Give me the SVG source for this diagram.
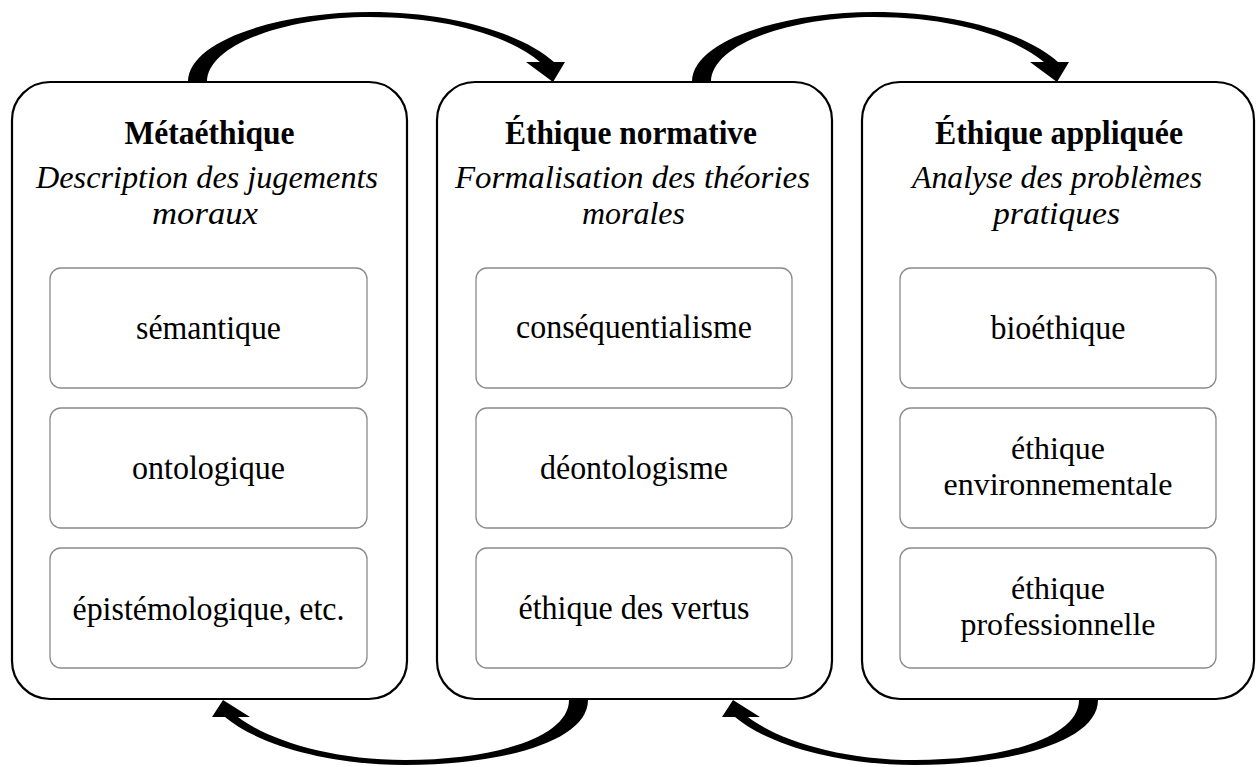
<svg xmlns="http://www.w3.org/2000/svg" width="1256" height="767" viewBox="0 0 1256 767">
<defs>
<style>
.outer{fill:#fff;stroke:#000;stroke-width:2.2}
.inner{fill:#fff;stroke:#8a8a8a;stroke-width:1.3}
.title{font-family:"Liberation Serif",serif;font-weight:bold;font-size:34px;fill:#000;text-anchor:middle}
.sub{font-family:"Liberation Serif",serif;font-style:italic;font-size:32px;fill:#000;text-anchor:middle}
.item{font-family:"Liberation Serif",serif;font-size:34px;fill:#000;text-anchor:middle}
.item2{font-family:"Liberation Serif",serif;font-size:32px;fill:#000;text-anchor:middle}
.arrow{fill:#000;stroke:none}
</style>
<path id="topArrow" d="M188,82 C188,40 280,12 370,12 C450,12 522,33 554,62 L565,62 L553,82 L526,62 L540,62 C510,37 450,17 370,17 C285,17 207,45 207,82 Z"/>
<path id="botArrow" d="M588,700 C588,742 500,765 405,765 C330,765 258,745 225,717 L212,717 L223,700 L250,717 L238,717 C268,740 330,760 405,760 C495,760 569,737 569,700 Z"/>
</defs>
<rect width="1256" height="767" fill="#fff"/>

<g id="node-metaethique">
<rect class="outer" x="12" y="82" width="395" height="617" rx="38"/>
<text class="title" x="209.5" y="144" textLength="170" lengthAdjust="spacingAndGlyphs">Métaéthique</text>
<text class="sub" x="207" y="188" textLength="342" lengthAdjust="spacingAndGlyphs">Description des jugements</text>
<text class="sub" x="205" y="224" textLength="106" lengthAdjust="spacingAndGlyphs">moraux</text>
</g>
<g id="node-semantique">
<rect class="inner" x="50" y="268" width="317" height="120" rx="11"/>
<text class="item" x="208.5" y="339" textLength="145" lengthAdjust="spacingAndGlyphs">sémantique</text>
</g>
<g id="node-ontologique">
<rect class="inner" x="50" y="408" width="317" height="120" rx="11"/>
<text class="item" x="208.5" y="479" textLength="153" lengthAdjust="spacingAndGlyphs">ontologique</text>
</g>
<g id="node-epistemologique">
<rect class="inner" x="50" y="548" width="317" height="120" rx="11"/>
<text class="item" x="208.5" y="620" textLength="272" lengthAdjust="spacingAndGlyphs">épistémologique, etc.</text>
</g>

<g id="node-ethique-normative">
<rect class="outer" x="437" y="82" width="395" height="617" rx="38"/>
<text class="title" x="631" y="144" textLength="252" lengthAdjust="spacingAndGlyphs">Éthique normative</text>
<text class="sub" x="632.5" y="188" textLength="355" lengthAdjust="spacingAndGlyphs">Formalisation des théories</text>
<text class="sub" x="633.5" y="224" textLength="103" lengthAdjust="spacingAndGlyphs">morales</text>
</g>
<g id="node-consequentialisme">
<rect class="inner" x="476" y="268" width="316" height="120" rx="11"/>
<text class="item" x="634" y="338" textLength="236" lengthAdjust="spacingAndGlyphs">conséquentialisme</text>
</g>
<g id="node-deontologisme">
<rect class="inner" x="476" y="408" width="316" height="120" rx="11"/>
<text class="item" x="634" y="479" textLength="188" lengthAdjust="spacingAndGlyphs">déontologisme</text>
</g>
<g id="node-vertus">
<rect class="inner" x="476" y="548" width="316" height="120" rx="11"/>
<text class="item" x="634" y="619" textLength="231" lengthAdjust="spacingAndGlyphs">éthique des vertus</text>
</g>

<g id="node-ethique-appliquee">
<rect class="outer" x="862" y="82" width="392" height="617" rx="38"/>
<text class="title" x="1059" y="144" textLength="248" lengthAdjust="spacingAndGlyphs">Éthique appliquée</text>
<text class="sub" x="1057" y="188" textLength="290" lengthAdjust="spacingAndGlyphs">Analyse des problèmes</text>
<text class="sub" x="1056.5" y="224" textLength="127" lengthAdjust="spacingAndGlyphs">pratiques</text>
</g>
<g id="node-bioethique">
<rect class="inner" x="900" y="268" width="316" height="120" rx="11"/>
<text class="item" x="1058" y="339" textLength="135" lengthAdjust="spacingAndGlyphs">bioéthique</text>
</g>
<g id="node-environnementale">
<rect class="inner" x="900" y="408" width="316" height="120" rx="11"/>
<text class="item2" x="1058" y="459" textLength="94" lengthAdjust="spacingAndGlyphs">éthique</text>
<text class="item2" x="1058" y="495" textLength="229" lengthAdjust="spacingAndGlyphs">environnementale</text>
</g>
<g id="node-professionnelle">
<rect class="inner" x="900" y="548" width="316" height="120" rx="11"/>
<text class="item2" x="1058" y="599" textLength="94" lengthAdjust="spacingAndGlyphs">éthique</text>
<text class="item2" x="1058" y="635" textLength="195" lengthAdjust="spacingAndGlyphs">professionnelle</text>
</g>

<g id="connectors">
<use href="#topArrow" class="arrow"/>
<use href="#topArrow" class="arrow" transform="translate(504,0)"/>
<use href="#botArrow" class="arrow"/>
<use href="#botArrow" class="arrow" transform="translate(510,0)"/>
</g>
</svg>
